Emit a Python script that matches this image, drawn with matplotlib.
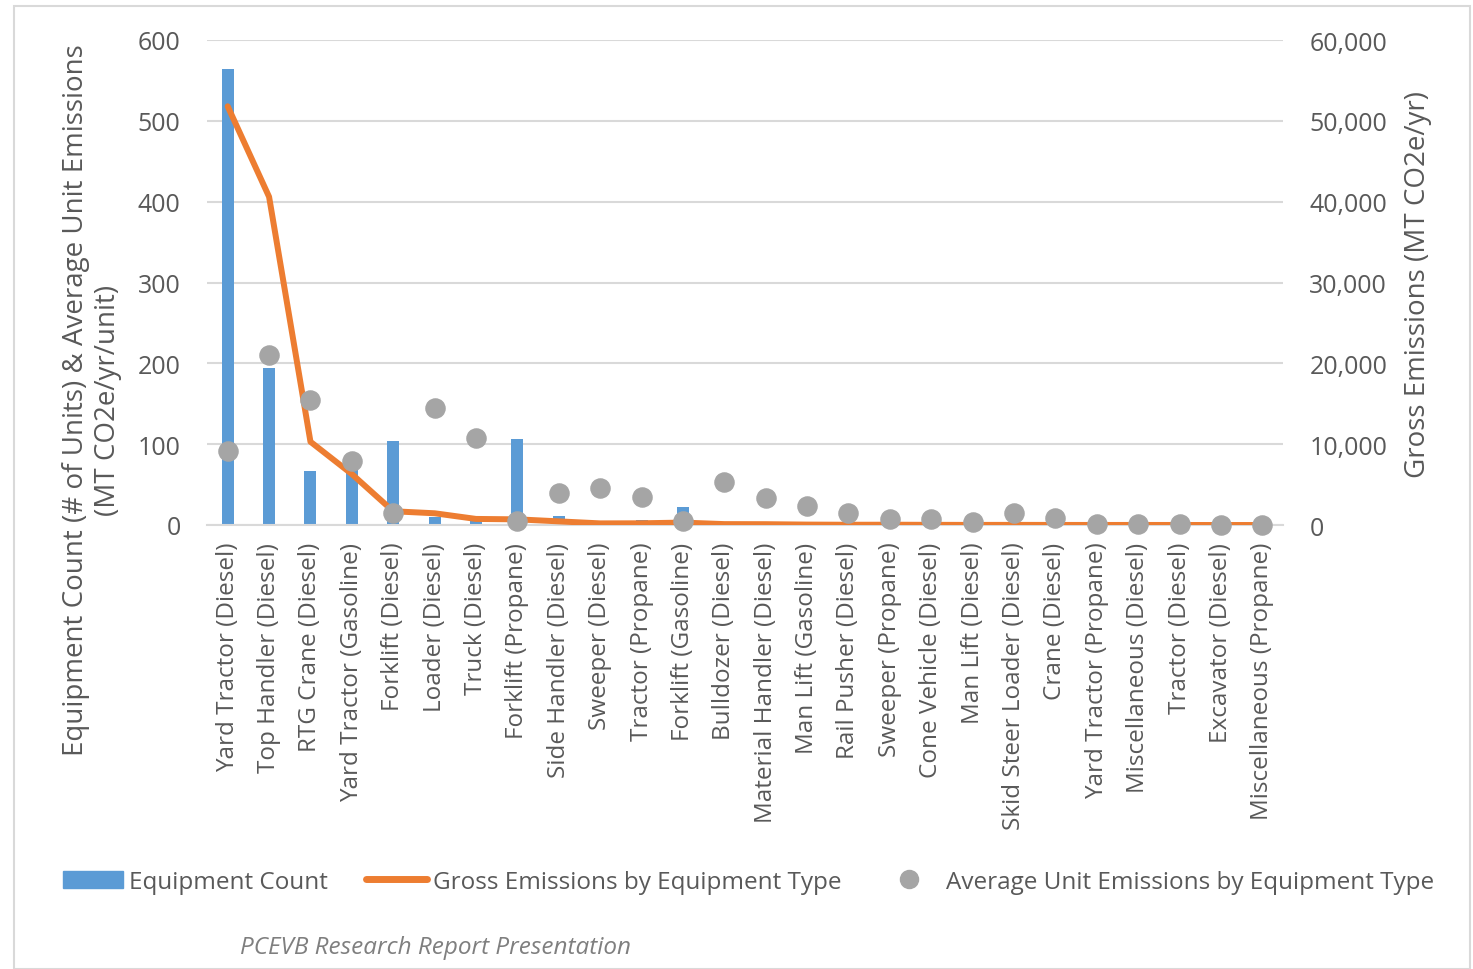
import matplotlib
matplotlib.use("Agg")
import matplotlib.pyplot as plt
from matplotlib.ticker import FuncFormatter, MultipleLocator
from matplotlib.lines import Line2D
from matplotlib.patches import Patch, Rectangle

categories = [
    "Yard Tractor (Diesel)", "Top Handler (Diesel)", "RTG Crane (Diesel)",
    "Yard Tractor (Gasoline)", "Forklift (Diesel)", "Loader (Diesel)",
    "Truck (Diesel)", "Forklift (Propane)", "Side Handler (Diesel)",
    "Sweeper (Diesel)", "Tractor (Propane)", "Forklift (Gasoline)",
    "Bulldozer (Diesel)", "Material Handler (Diesel)", "Man Lift (Gasoline)",
    "Rail Pusher (Diesel)", "Sweeper (Propane)", "Cone Vehicle (Diesel)",
    "Man Lift (Diesel)", "Skid Steer Loader (Diesel)", "Crane (Diesel)",
    "Yard Tractor (Propane)", "Miscellaneous (Diesel)", "Tractor (Diesel)",
    "Excavator (Diesel)", "Miscellaneous (Propane)",
]
equipment_count = [564, 194, 67, 73, 104, 10, 7, 107, 11, 4, 6, 22,
                   2, 3, 2, 2, 5, 3, 3, 1, 1, 4, 6, 2, 1, 3]
gross_emissions = [51800, 40600, 10300, 6300, 1700, 1450, 750, 700, 450,
                   200, 210, 300, 110, 100, 50, 30, 35, 20, 12, 15, 9,
                   4, 6, 2, 0, 0]
avg_unit_emissions = [91, 210, 155, 79, 15, 145, 108, 5, 40, 46, 35, 5,
                      53, 33, 24, 15, 7, 7, 4, 15, 9, 1, 1, 1, 0, 0]

BLUE = "#5B9BD5"
ORANGE = "#ED7D31"
GRAY = "#A5A5A5"
TXT = "#595959"
FONT = ["Open Sans", "DejaVu Sans"]
plt.rcParams["font.family"] = FONT

fig = plt.figure(figsize=(14.73, 9.70), dpi=100)
fig.patch.set_facecolor("white")
fig.add_artist(Rectangle((14 / 1473, 0.0), 1 - 17 / 1473, 1 - 7 / 970,
                         transform=fig.transFigure, fill=False,
                         edgecolor="#D9D9D9", linewidth=1.5))

ax = fig.add_axes([207 / 1473, 1 - 526 / 970, (1283 - 207) / 1473, (526 - 41) / 970])
ax2 = ax.twinx()

x = list(range(len(categories)))
ax.bar(x, equipment_count, width=0.29, color=BLUE, zorder=2)
ax2.plot(x, gross_emissions, color=ORANGE, linewidth=4.3,
         solid_capstyle="round", solid_joinstyle="round", zorder=3)
ax2.scatter(x, avg_unit_emissions, s=190, color=GRAY, zorder=4,
            transform=ax.transData, clip_on=False)

ax.set_xlim(-0.5, len(categories) - 0.5)
ax.set_ylim(0, 600)
ax2.set_ylim(0, 60000)
ax.yaxis.set_major_locator(MultipleLocator(100))
ax2.yaxis.set_major_locator(MultipleLocator(10000))
ax2.yaxis.set_major_formatter(FuncFormatter(lambda v, p: f"{int(v):,}"))

ax.grid(axis="y", color="#D9D9D9", linewidth=1.5, zorder=0)
ax.set_axisbelow(True)
for a in (ax, ax2):
    for s in a.spines.values():
        s.set_visible(False)
    a.tick_params(axis="both", length=0, colors=TXT, labelsize=18)
ax.spines["bottom"].set_visible(True)
ax.spines["bottom"].set_color("#D9D9D9")
ax.spines["bottom"].set_linewidth(1.5)
ax.tick_params(axis="y", pad=19)
ax2.tick_params(axis="y", pad=19)

ax.set_xticks(x)
ax.set_xticklabels(categories, rotation=90, fontsize=17.5, color=TXT)
ax.tick_params(axis="x", pad=12)

fig.text(92 / 1473, 1 - 400 / 970,
         "Equipment Count (# of Units) & Average Unit Emissions\n(MT CO2e/yr/unit)",
         rotation=90, ha="center", va="center", multialignment="center",
         fontsize=20, color=TXT, linespacing=1.15)
fig.text(1418 / 1473, 1 - 284 / 970, "Gross Emissions (MT CO2e/yr)",
         rotation=90, ha="center", va="center", fontsize=20, color=TXT)

handles = [
    Patch(facecolor=BLUE, edgecolor=BLUE),
    Line2D([0], [0], color=ORANGE, linewidth=5, solid_capstyle="round"),
    Line2D([0], [0], marker="o", linestyle="none", markersize=13,
           markerfacecolor=GRAY, markeredgecolor=GRAY),
]
labels = ["Equipment Count", "Gross Emissions by Equipment Type",
          "Average Unit Emissions by Equipment Type"]
fig.legend(handles, labels, loc="center", bbox_to_anchor=(0.508, 1 - 883 / 970),
           ncol=3, frameon=False, fontsize=17.5, labelcolor=TXT,
           handlelength=2.5, handletextpad=0.25, columnspacing=1.55)

fig.text(240 / 1473, 1 - 948 / 970, "PCEVB Research Report Presentation",
         fontsize=17.5, style="italic", color="#7F7F7F", ha="left", va="center")

fig.savefig("out.png", dpi=100)
